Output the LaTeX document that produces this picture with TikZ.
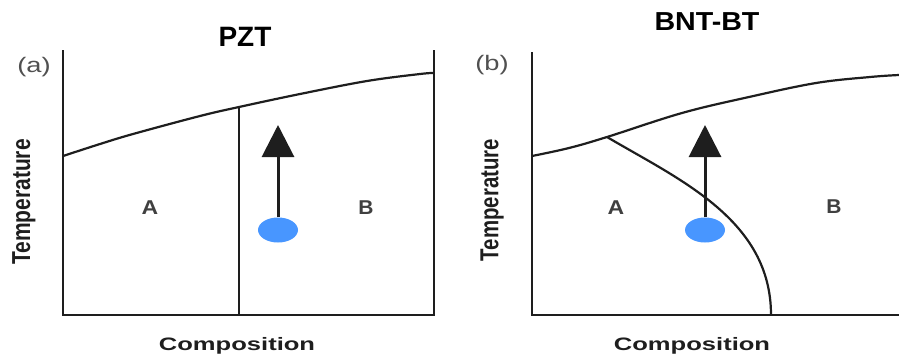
\documentclass[tikz,border=0pt]{standalone}
\usepackage{fontspec}
\setmainfont{Liberation Sans}
\usepackage{tikz}
\usetikzlibrary{arrows.meta,positioning,shapes.geometric}
\definecolor{phaseInk}{RGB}{30,30,30}
\definecolor{phaseGray}{RGB}{80,80,80}
\definecolor{phaseBlue}{RGB}{72,150,255}

\begin{document}
\begin{tikzpicture}[x=1pt, y=-1pt,
    line/.style={phaseInk, line width=2.2pt},
    dot/.style={ellipse, fill=phaseBlue, minimum width=40pt, minimum height=25pt, inner sep=0pt},
    region/.style={font=\bfseries\fontsize{20}{20}\selectfont, text=phaseInk!85},
    axislabel/.style={font=\bfseries\fontsize{18}{18}\selectfont, text=phaseInk},
    panel/.style={font=\fontsize{21}{21}\selectfont, text=phaseGray},
    title/.style={font=\bfseries\fontsize{28}{28}\selectfont}
  ]
  \useasboundingbox (0,0) rectangle (899,357);

  % panel (a): PZT
  \draw[line] (63,50) -- (63,315) -- (434,315) -- (434,50);
  \coordinate (mpbA) at (239,107);
  \draw[line] plot[smooth, tension=0.6] coordinates {(63,156) (100,144) (133,134) (200,116)
    (mpbA) (300,94) (367,81) (420,74) (434,73)};
  \draw[line] (mpbA) -- (mpbA |- 0,315);
  \node[title] (titleA) at (245,37) {PZT};
  \node[panel] (labelA) at (34,67) {\scalebox{1.3}[1]{(a)}};
  \node[region] (regA1) at (150,208) {\scalebox{1.15}[1]{A}};
  \node[region] (regA2) at (366,208) {\scalebox{1.05}[1]{B}};
  \node[axislabel] (compA) at (237,346) {\scalebox{1.42}[1]{Composition}};
  \node[axislabel, font=\bfseries\fontsize{20}{20}\selectfont, rotate=90] (tempA) at (24,202) {\scalebox{1.05}[1.3]{Temperature}};

  % panel (b): BNT-BT
  \draw[line] (532,52) -- (532,315) -- (899,315);
  \coordinate (mpbB) at (607,137);
  \coordinate (footB) at (771,315);
  \draw[line] plot[smooth, tension=0.6] coordinates {(532,156) (569,148) (mpbB)
    (682,113) (749,97) (816,83) (870,77) (899,75)};
  \draw[line] (mpbB) .. controls (680,180) and (771,220) .. (footB);
  \node[title, font=\bfseries\fontsize{26}{26}\selectfont] (titleB) at (707,22) {\scalebox{1.1}[1]{BNT-BT}};
  \node[panel] (labelB) at (492,65) {\scalebox{1.3}[1]{(b)}};
  \node[region] (regB1) at (616,208) {\scalebox{1.15}[1]{A}};
  \node[region] (regB2) at (834,207) {\scalebox{1.05}[1]{B}};
  \node[axislabel] (compB) at (692,346) {\scalebox{1.42}[1]{Composition}};
  \node[axislabel, font=\bfseries\fontsize{20}{20}\selectfont, rotate=90] (tempB) at (492,200) {\scalebox{1.02}[1.3]{Temperature}};

  % poling arrows
  \foreach \x/\n in {278/A, 705/B} {
    \node[dot] (dot\n) at (\x,230) {};
    \coordinate (tip\n) at (\x,125);
    \draw[phaseInk, line width=3pt, -{Triangle[width=32pt, length=32pt]}] (dot\n.north) -- (tip\n);
  }
\end{tikzpicture}
\end{document}
